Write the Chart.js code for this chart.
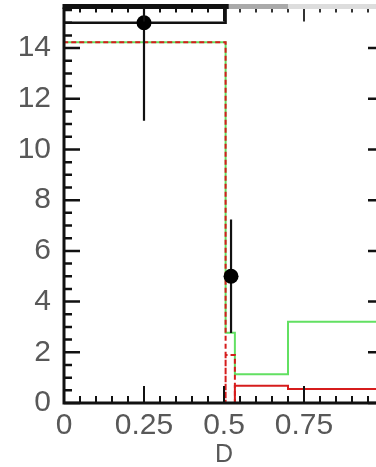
<!DOCTYPE html>
<html>
<head>
<meta charset="utf-8">
<script src="https://cdn.jsdelivr.net/npm/chart.js@4.4.1/dist/chart.umd.min.js"></script>
<style>
  html, body { margin: 0; padding: 0; background: #fff; overflow: hidden; }
  #wrap { position: absolute; left: 0; top: 0; width: 400px; height: 467px; }
</style>
</head>
<body>
<div id="wrap"><canvas id="chart"></canvas></div>
<script>
// ---- datos ----
// histograma verde (total)
const greenEdges = [0, 0.505, 0.534, 0.7, 1];
const greenVals = [14.23, 2.77, 1.13, 3.2];
// histograma rojo punteado
const redDashEdges = [0, 0.505, 0.534];
const redDashVals = [14.23, 1.89];
// histograma rojo solido
const redEdges = [0.534, 0.7, 1];
const redVals = [0.68, 0.55];
// histograma negro (datos)
const blackEdges = [0, 0.505];
const blackVals = [15];
// puntos con error
const ptX = [0.25, 0.522];
const ptY = [15, 5];
const ptErr = [3.87, 2.24];
// ejes
const xMin = 0, xMax = 1, yMin = 0, yMax = 15.6;
const xTickVals = [0, 0.25, 0.5, 0.75];
const yTickVals = [0, 2, 4, 6, 8, 10, 12, 14];
const xMajor = 0.25, xMinor = 0.05;
const yMajor = 2, yMinor = 0.5;

// histograma como escalones
function steps(edges, vals) {
    const out = [];
    vals.forEach((v, i) => {
        out.push({ x: edges[i], y: v });
        out.push({ x: edges[i + 1], y: v });
    });
    return out;
}
// histograma como cajas (cada bin cerrado hasta cero)
function boxes(edges, vals) {
    const out = [];
    vals.forEach((v, i) => {
        out.push({ x: edges[i], y: 0 });
        out.push({ x: edges[i], y: v });
        out.push({ x: edges[i + 1], y: v });
        out.push({ x: edges[i + 1], y: 0 });
    });
    return out;
}

const redSolid = steps(redEdges, redVals);
redSolid.unshift({ x: redEdges[0], y: 0 });

const blackLine = steps(blackEdges, blackVals);
blackLine.push({ x: blackEdges[blackEdges.length - 1], y: yMax });

const errLines = [];
ptX.forEach((x, i) => {
    errLines.push({ x: x, y: ptY[i] - ptErr[i] });
    errLines.push({ x: x, y: ptY[i] + ptErr[i] });
    errLines.push({ x: x, y: null });
});

const green = '#62e062';
const red = '#d61c1c';
const labelColor = '#585858';

//marco y ticks hacia adentro
const frameTicks = {
    id: 'frameTicks',
    afterDatasetsDraw(chart) {
        const { ctx, chartArea: { left, right, top, bottom }, scales: { x, y } } = chart;
        ctx.save();
        ctx.lineCap = 'butt';
        // eje y izquierdo y derecho
        ctx.strokeStyle = '#111';
        ctx.lineWidth = 2.5;
        for (let k = 0; k * yMinor <= yMax + 1e-9; k++) {
            const v = k * yMinor;
            const py = y.getPixelForValue(v);
            const len = (Math.abs(v / yMajor - Math.round(v / yMajor)) < 1e-6) ? 16 : 8;
            ctx.beginPath();
            ctx.moveTo(left, py); ctx.lineTo(left + len, py);
            ctx.moveTo(right, py); ctx.lineTo(right - len, py);
            ctx.stroke();
        }
        // eje x abajo y arriba
        ctx.lineWidth = 2;
        for (let k = 0; k * xMinor <= xMax + 1e-9; k++) {
            const v = k * xMinor;
            const px = x.getPixelForValue(v);
            const major = Math.abs(v / xMajor - Math.round(v / xMajor)) < 1e-6;
            ctx.strokeStyle = '#111';
            ctx.beginPath();
            ctx.moveTo(px, bottom); ctx.lineTo(px, bottom - (major ? 17 : 7));
            ctx.stroke();
            ctx.strokeStyle = v <= 0.505 ? '#111' : '#333';
            ctx.beginPath();
            ctx.moveTo(px, top); ctx.lineTo(px, top + (major ? 14 : 5));
            ctx.stroke();
        }
        // marco
        ctx.strokeStyle = '#111';
        ctx.lineWidth = 3;
        ctx.beginPath();
        ctx.moveTo(left, top); ctx.lineTo(left, bottom); ctx.lineTo(right, bottom); ctx.lineTo(right, top);
        ctx.stroke();
        // borde superior
        ctx.lineWidth = 5;
        const xa = x.getPixelForValue(0.515), xb = x.getPixelForValue(0.7);
        ctx.strokeStyle = '#ddd';
        ctx.beginPath(); ctx.moveTo(xb, top - 1); ctx.lineTo(right, top - 1); ctx.stroke();
        ctx.strokeStyle = '#aaa';
        ctx.beginPath(); ctx.moveTo(xa, top - 1); ctx.lineTo(xb, top - 1); ctx.stroke();
        ctx.strokeStyle = '#111';
        ctx.beginPath(); ctx.moveTo(left - 1.5, top - 1); ctx.lineTo(xa, top - 1); ctx.stroke();
        ctx.restore();
    }
};

const config = {
    type: 'scatter',
    data: {
        datasets: [
            {
                data: ptX.map((x, i) => ({ x: x, y: ptY[i] })),
                pointRadius: 7.5,
                pointBackgroundColor: '#000',
                pointBorderColor: '#000',
                pointBorderWidth: 0,
                showLine: false,
                order: 0
            },
            {
                data: errLines,
                showLine: true,
                spanGaps: false,
                borderColor: '#111',
                borderWidth: 2.2,
                pointRadius: 0,
                order: 1
            },
            {
                data: blackLine,
                showLine: true,
                borderColor: '#111',
                borderWidth: 2.5,
                pointRadius: 0,
                order: 2
            },
            {
                data: boxes(redDashEdges, redDashVals),
                showLine: true,
                borderColor: red,
                borderWidth: 2,
                borderDash: [5, 3],
                pointRadius: 0,
                order: 3
            },
            {
                data: redSolid,
                showLine: true,
                borderColor: red,
                borderWidth: 2,
                pointRadius: 0,
                order: 4
            },
            {
                data: steps(greenEdges, greenVals),
                showLine: true,
                borderColor: green,
                borderWidth: 2,
                pointRadius: 0,
                order: 5
            }
        ]
    },
    options: {
        responsive: true,
        maintainAspectRatio: false,
        animation: false,
        layout: {
            padding: { top: 7, right: 16, bottom: 0, left: 0 }
        },
        plugins: {
            legend: { display: false },
            tooltip: { enabled: false }
        },
        scales: {
            x: {
                type: 'linear',
                min: xMin,
                max: xMax,
                grid: { display: false, drawTicks: false },
                border: { display: false },
                afterBuildTicks: (s) => { s.ticks = xTickVals.map(v => ({ value: v })); },
                afterFit: (s) => { s.height = 64; s.paddingLeft = 0; s.paddingRight = 0; },
                ticks: {
                    padding: 5,
                    color: labelColor,
                    font: { family: 'Liberation Sans', size: 30 },
                    callback: (v) => String(v)
                },
                title: {
                    display: true,
                    text: 'D',
                    color: labelColor,
                    font: { family: 'Liberation Sans', size: 25 },
                    padding: { top: 0, bottom: -3 }
                }
            },
            y: {
                type: 'linear',
                min: yMin,
                max: yMax,
                grid: { display: false, drawTicks: false },
                border: { display: false },
                afterBuildTicks: (s) => { s.ticks = yTickVals.map(v => ({ value: v })); },
                afterFit: (s) => { s.width = 64; s.paddingTop = 0; s.paddingBottom = 0; },
                ticks: {
                    padding: 13,
                    color: labelColor,
                    font: { family: 'Liberation Sans', size: 30 },
                    callback: (v) => String(v)
                }
            }
        }
    },
    plugins: [frameTicks]
};
const myChart = new Chart(document.getElementById('chart'), config);
</script>
</body>
</html>
